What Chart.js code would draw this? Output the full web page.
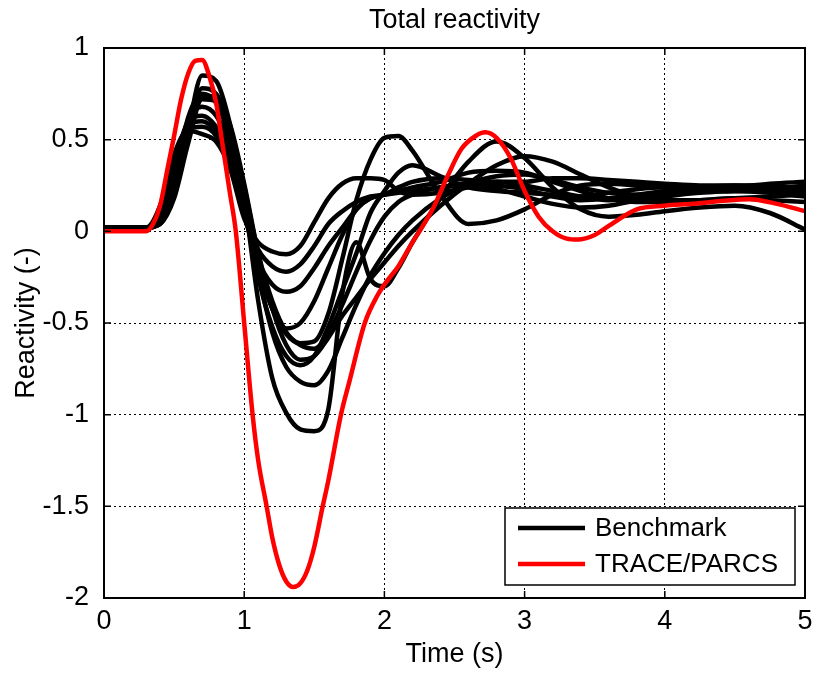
<!DOCTYPE html>
<html>
<head>
<meta charset="utf-8">
<script src="https://cdn.jsdelivr.net/npm/chart.js@4/dist/chart.umd.min.js"></script>
<style>
  html, body { margin: 0; padding: 0; background: #fff; }
  #wrap { width: 813px; height: 673px; }
</style>
</head>
<body>
<div id="wrap"><canvas id="chart" width="813" height="673"></canvas></div>
<script>
// time grid shared by the benchmark runs (s)
const benchTimes = [0, 0.3, 0.4, 0.5, 0.6, 0.7, 0.8, 0.9, 1.0, 1.1, 1.2, 1.3, 1.4, 1.5, 1.6, 1.7, 1.8, 1.9, 2.0, 2.1, 2.2, 2.4, 2.6, 2.8, 3.0, 3.2, 3.4, 3.6, 3.8, 4.0, 4.25, 4.5, 4.75, 5.0];

// benchmark participants
const bench1  = [0.02,0.02,0.05,0.20,0.55,0.85,0.82,0.58,0.18,-0.38,-0.80,-0.99,-1.08,-1.09,-0.97,-0.34,-0.06,-0.26,-0.30,-0.20,-0.06,0.18,0.38,0.49,0.40,0.24,0.12,0.08,0.09,0.11,0.13,0.14,0.10,0.01];
const bench2  = [0.02,0.02,0.05,0.22,0.55,0.78,0.75,0.56,0.22,-0.22,-0.55,-0.74,-0.82,-0.84,-0.76,-0.58,-0.40,-0.24,-0.12,-0.02,0.06,0.18,0.26,0.30,0.31,0.28,0.24,0.21,0.20,0.21,0.22,0.22,0.21,0.19];
const bench3  = [0.02,0.02,0.06,0.28,0.62,0.75,0.70,0.50,0.15,-0.25,-0.52,-0.68,-0.73,-0.68,-0.52,-0.32,-0.12,0.10,0.22,0.32,0.36,0.30,0.24,0.22,0.21,0.20,0.19,0.21,0.23,0.24,0.24,0.23,0.22,0.20];
const bench4  = [0.02,0.02,0.04,0.18,0.48,0.72,0.71,0.54,0.24,-0.12,-0.38,-0.55,-0.62,-0.64,-0.56,-0.40,-0.22,-0.05,0.08,0.16,0.20,0.24,0.26,0.25,0.23,0.19,0.17,0.18,0.20,0.22,0.24,0.25,0.25,0.23];
const bench5  = [0.02,0.02,0.06,0.30,0.60,0.68,0.63,0.46,0.13,-0.20,-0.42,-0.56,-0.61,-0.60,-0.45,-0.15,0.17,0.39,0.51,0.52,0.44,0.20,0.04,0.06,0.12,0.20,0.25,0.26,0.25,0.24,0.23,0.22,0.22,0.21];
const bench6  = [0.02,0.02,0.08,0.35,0.60,0.63,0.57,0.42,0.11,-0.20,-0.42,-0.53,-0.50,-0.38,-0.20,-0.02,0.12,0.18,0.20,0.22,0.24,0.27,0.32,0.33,0.32,0.27,0.22,0.18,0.16,0.16,0.17,0.18,0.17,0.16];
const bench7  = [0.02,0.02,0.10,0.38,0.58,0.60,0.54,0.39,0.09,-0.16,-0.29,-0.33,-0.30,-0.20,-0.08,0.02,0.12,0.18,0.20,0.24,0.27,0.29,0.28,0.27,0.27,0.29,0.29,0.28,0.27,0.26,0.25,0.25,0.24,0.23];
const bench8  = [0.02,0.02,0.12,0.40,0.56,0.57,0.52,0.36,0.09,-0.10,-0.19,-0.22,-0.18,-0.08,0.04,0.11,0.16,0.19,0.20,0.21,0.22,0.24,0.25,0.23,0.19,0.15,0.13,0.14,0.17,0.19,0.21,0.22,0.23,0.25];
const bench9  = [0.02,0.02,0.14,0.42,0.55,0.53,0.49,0.34,0.07,-0.06,-0.11,-0.125,-0.08,0.05,0.18,0.26,0.29,0.29,0.28,0.22,0.20,0.21,0.24,0.27,0.25,0.22,0.19,0.17,0.18,0.20,0.22,0.24,0.26,0.27];
const bench10 = [0.02,0.02,0.04,0.20,0.50,0.74,0.73,0.58,0.26,-0.12,-0.42,-0.62,-0.70,-0.68,-0.58,-0.46,-0.36,-0.26,-0.17,-0.08,0.00,0.14,0.26,0.36,0.41,0.38,0.31,0.24,0.19,0.17,0.17,0.18,0.19,0.20];

const benchRuns = [bench1, bench2, bench3, bench4, bench5, bench6, bench7, bench8, bench9, bench10];

// TRACE/PARCS result
const traceTimes = [0, 0.3, 0.35, 0.4, 0.45, 0.5, 0.55, 0.6, 0.65, 0.7, 0.75, 0.8, 0.84, 0.9, 0.94, 1.0, 1.06, 1.1, 1.16, 1.2, 1.25, 1.3, 1.35, 1.4, 1.45, 1.5, 1.56, 1.6, 1.69, 1.75, 1.86, 1.95, 2.0, 2.1, 2.2, 2.25, 2.35, 2.45, 2.55, 2.65, 2.72, 2.8, 2.9, 3.0, 3.1, 3.2, 3.3, 3.38, 3.5, 3.6, 3.8, 4.0, 4.2, 4.4, 4.6, 4.8, 5.0];
const traceValues = [0, 0, 0.04, 0.14, 0.33, 0.52, 0.72, 0.86, 0.93, 0.935, 0.85, 0.70, 0.50, 0.20, 0.0, -0.50, -1.0, -1.25, -1.50, -1.67, -1.82, -1.91, -1.94, -1.92, -1.85, -1.72, -1.50, -1.36, -1.0, -0.82, -0.50, -0.35, -0.29, -0.19, -0.06, 0.0, 0.13, 0.30, 0.45, 0.52, 0.54, 0.51, 0.40, 0.22, 0.08, 0.0, -0.04, -0.045, -0.02, 0.03, 0.12, 0.14, 0.15, 0.165, 0.175, 0.15, 0.11];

const xTicks = [0, 1, 2, 3, 4, 5];
const yTicks = [-2, -1.5, -1, -0.5, 0, 0.5, 1];

const FONT = "'Liberation Sans', Arial, Helvetica, sans-serif";
const FONT_SIZE = 27;

function toPoints(xs, ys) {
    const pts = [];
    for (let i = 0; i < xs.length; ++i) {
        pts.push({ x: xs[i], y: ys[i] });
    }
    return pts;
}

const datasets = [{
    label: "TRACE/PARCS",
    data: toPoints(traceTimes, traceValues),
    borderColor: "rgb(255, 0, 0)",
    borderWidth: 4.5
}];
for (let i = 0; i < benchRuns.length; ++i) {
    datasets.push({
        label: i === 0 ? "Benchmark" : "Benchmark " + (i + 1),
        data: toPoints(benchTimes, benchRuns[i]),
        borderColor: "rgb(0, 0, 0)",
        borderWidth: 4.5
    });
}

// box round the axes plus inward tick marks, matlab style; title over the plot area
const framePlugin = {
    id: "frame",
    afterDatasetsDraw(chart) {
        const { ctx, chartArea: a, scales } = chart;
        ctx.save();
        ctx.strokeStyle = "#000";
        ctx.lineWidth = 2;
        ctx.strokeRect(a.left, a.top, a.right - a.left, a.bottom - a.top);
        ctx.lineWidth = 1.5;
        ctx.beginPath();
        for (const t of xTicks) {
            const px = scales.x.getPixelForValue(t);
            ctx.moveTo(px, a.bottom); ctx.lineTo(px, a.bottom - 7);
            ctx.moveTo(px, a.top); ctx.lineTo(px, a.top + 7);
        }
        for (const t of yTicks) {
            const py = scales.y.getPixelForValue(t);
            ctx.moveTo(a.left, py); ctx.lineTo(a.left + 7, py);
            ctx.moveTo(a.right, py); ctx.lineTo(a.right - 7, py);
        }
        ctx.stroke();

        ctx.fillStyle = "#000";
        ctx.font = FONT_SIZE + "px " + FONT;
        ctx.textAlign = "center";
        ctx.textBaseline = "middle";
        ctx.fillText("Total reactivity", (a.left + a.right) / 2, 21);
        ctx.restore();
    }
};

// legend box in the lower right corner of the plot
const legendPlugin = {
    id: "boxLegend",
    afterDraw(chart) {
        const { ctx, chartArea: a } = chart;
        const w = 290, h = 77;
        const x0 = a.right - 10 - w, y0 = a.bottom - 13 - h;
        ctx.save();
        ctx.fillStyle = "#fff";
        ctx.fillRect(x0, y0, w, h);
        ctx.strokeStyle = "#000";
        ctx.lineWidth = 1.5;
        ctx.strokeRect(x0, y0, w, h);
        const rows = [["Benchmark", "rgb(0, 0, 0)"], ["TRACE/PARCS", "rgb(255, 0, 0)"]];
        ctx.font = "26px " + FONT;
        ctx.textBaseline = "middle";
        ctx.textAlign = "left";
        for (let i = 0; i < rows.length; ++i) {
            const yy = y0 + 20 + i * 36;
            ctx.strokeStyle = rows[i][1];
            ctx.lineWidth = 4.5;
            ctx.beginPath();
            ctx.moveTo(x0 + 13, yy);
            ctx.lineTo(x0 + 80, yy);
            ctx.stroke();
            ctx.fillStyle = "#000";
            ctx.fillText(rows[i][0], x0 + 90, yy + 1);
        }
        ctx.restore();
    }
};

const config = {
    type: "line",
    data: { datasets },
    options: {
        responsive: false,
        animation: false,
        layout: { padding: { left: 0, right: 8, top: 48, bottom: 0 } },
        elements: {
            point: { radius: 0 },
            line: { cubicInterpolationMode: "monotone", borderJoinStyle: "round", borderCapStyle: "round" }
        },
        plugins: {
            legend: { display: false },
            tooltip: { enabled: false },
            title: { display: false }
        },
        scales: {
            x: {
                type: "linear",
                min: 0,
                max: 5,
                afterFit(scale) { scale.height = 75; scale.paddingRight = 0; scale.paddingLeft = 0; },
                afterBuildTicks(scale) { scale.ticks = xTicks.map(v => ({ value: v })); },
                grid: { color: "#000", lineWidth: 1, drawTicks: false },
                border: { display: false, dash: [2, 3] },
                ticks: { color: "#000", padding: 7, font: { family: FONT, size: FONT_SIZE }, callback: v => String(v) },
                title: {
                    display: true,
                    text: "Time (s)",
                    color: "#000",
                    font: { family: FONT, size: FONT_SIZE },
                    padding: { top: 0, bottom: 2 }
                }
            },
            y: {
                type: "linear",
                min: -2,
                max: 1,
                afterFit(scale) { scale.width = 104; scale.paddingTop = 0; scale.paddingBottom = 0; },
                afterBuildTicks(scale) { scale.ticks = yTicks.map(v => ({ value: v })); },
                grid: { color: "#000", lineWidth: 1, drawTicks: false },
                border: { display: false, dash: [2, 3] },
                ticks: { color: "#000", padding: 15, font: { family: FONT, size: FONT_SIZE }, callback: v => String(v) },
                title: {
                    display: true,
                    text: "Reactivity (-)",
                    color: "#000",
                    font: { family: FONT, size: FONT_SIZE },
                    padding: { top: 10, bottom: 0 }
                }
            }
        }
    },
    plugins: [framePlugin, legendPlugin]
};

const ctx = document.getElementById("chart");

if (ctx) {
    new Chart(ctx, config);
}
</script>
</body>
</html>
